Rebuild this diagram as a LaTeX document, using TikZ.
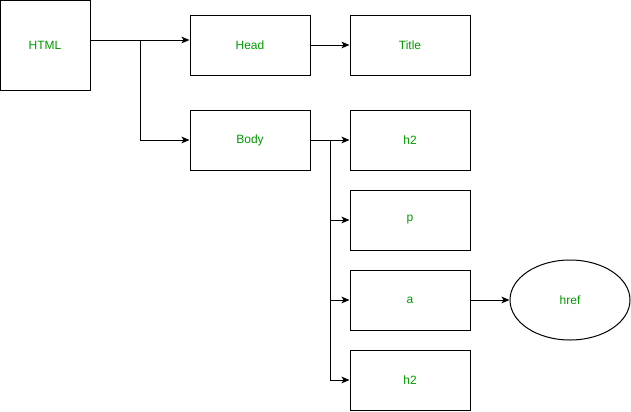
\documentclass[tikz,border=0pt]{standalone}
\usepackage{fontspec}
\setmainfont{Liberation Sans}
\usetikzlibrary{arrows.meta,shapes.geometric}
\definecolor{TagGreen}{HTML}{009900}

\tikzset{
  tagbox/.style={draw,line width=0.75pt,minimum width=90pt,minimum height=45pt,inner sep=0pt,text=TagGreen,font=\fontsize{9pt}{11pt}\selectfont},
  attrnode/.style={ellipse,draw,line width=0.75pt,minimum width=90pt,minimum height=60pt,inner sep=0pt,text=TagGreen,font=\fontsize{9pt}{11pt}\selectfont},
  link/.style={line width=0.75pt,-{Stealth[length=6pt,width=5pt,inset=1.5pt]}},
  trunk/.style={line width=0.75pt}
}

\begin{document}
\begin{tikzpicture}[x=0.75pt,y=-0.75pt]
\path[use as bounding box] (0,0) rectangle (631,411);
% boxes
\node[tagbox,minimum width=67.5pt,minimum height=67.5pt] (html) at (45,45) {HTML};
\node[tagbox] (head) at (250,45) {Head};
\node[tagbox] (title) at (410,45) {Title};
\node[tagbox] (body) at (250,140) {Body};
\node[tagbox] (h2top) at (410,140) {h2};
\node[tagbox] (para) at (410,220) {p};
\node[tagbox] (anchor) at (410,300) {a};
\node[tagbox] (h2bot) at (410,380) {h2};
\node[attrnode] (href) at (570,300) {href};
% joints
\coordinate (jhtml) at (140,40);
\coordinate (jbody) at (330,140);
% connectors
\draw[link] (html.east |- jhtml) -- (head.west |- jhtml);
\draw[link] (jhtml) |- (body.west);
\draw[link] (head) -- (title);
\draw[link] (body) -- (h2top);
\draw[link] (jbody) |- (para.west);
\draw[link] (jbody) |- (anchor.west);
\draw[link] (jbody) |- (h2bot.west);
\draw[link] (anchor) -- (href);
\end{tikzpicture}
\end{document}
